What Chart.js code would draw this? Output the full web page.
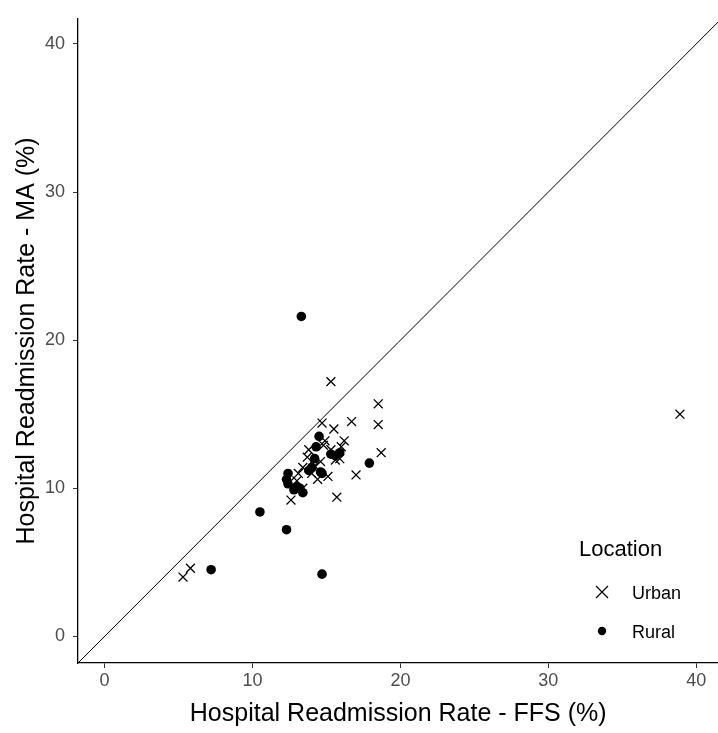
<!DOCTYPE html>
<html>
<head>
<meta charset="utf-8">
<script src="https://cdn.jsdelivr.net/npm/chart.js"></script>
<style>
  html, body { margin: 0; padding: 0; background: #fff; overflow: hidden; }
  #wrap { width: 718px; height: 733px; overflow: hidden; }
</style>
</head>
<body>
<div id="wrap"><canvas id="chart" width="726" height="733"></canvas></div>
<script>
// dados (FFS x MA, %)
const urbanFFS = [5.3, 5.8, 12.6, 15.7, 17.0, 18.7, 16.7, 18.5, 18.5, 15.3, 14.7, 38.9, 15.5, 16.2, 16.0,
  13.7, 14.6, 15.1, 13.0, 13.4, 14.4, 14.0, 15.3, 13.4, 12.5, 15.6, 14.9, 13.8, 15.9, 14.2, 14.8, 13.1];
const urbanMA  = [4.0, 4.6, 9.2, 9.4, 10.9, 12.4, 14.5, 14.3, 15.7, 17.2, 14.4, 15.0, 14.0, 13.2, 12.8,
  12.1, 11.8, 10.8, 10.5, 10.0, 10.6, 11.0, 12.6, 11.4, 10.4, 11.9, 13.2, 12.6, 12.0, 11.5, 12.9, 11.0];

const ruralFFS = [13.3, 17.9, 10.5, 12.3, 7.2, 14.7, 14.5, 14.3, 15.9, 15.6, 14.0, 14.7, 12.4, 12.4,
  12.8, 13.4, 13.2, 13.8, 14.6, 12.3, 13.0, 14.2, 15.3];
const ruralMA  = [21.6, 11.7, 8.4, 7.2, 4.5, 4.2, 13.5, 12.8, 12.4, 12.2, 11.4, 11.0, 11.0, 10.3,
  9.9, 9.7, 10.0, 11.2, 11.1, 10.6, 10.1, 12.0, 12.3];

const xTicks = [0, 10, 20, 30, 40];
const yTicks = [0, 10, 20, 30, 40];
const xRange = [-1.8, 41.5];
const yRange = [-1.8, 41.7];

const toPts = (xs, ys) => xs.map((x, i) => ({ x, y: ys[i] }));

const FONT = 'Arial, "Liberation Sans", sans-serif';
const TICK_GRAY = '#4d4d4d';

// legenda desenhada dentro da área do gráfico (como no original)
const insideLegend = {
  id: 'insideLegend',
  afterDraw(chart) {
    const c = chart.ctx;
    c.save();
    c.fillStyle = '#000';
    c.textBaseline = 'middle';
    c.font = '22px ' + FONT;
    c.fillText('Location', 579, 550);

    // Urban: x
    c.strokeStyle = '#000';
    c.lineWidth = 1.2;
    c.beginPath();
    c.moveTo(596, 586); c.lineTo(608, 598);
    c.moveTo(608, 586); c.lineTo(596, 598);
    c.stroke();
    // Rural: ponto
    c.beginPath();
    c.arc(602, 631, 4.2, 0, Math.PI * 2);
    c.fill();

    c.font = '18px ' + FONT;
    c.fillText('Urban', 632, 594);
    c.fillText('Rural', 632, 633);
    c.restore();
  }
};

new Chart(document.getElementById('chart'), {
  type: 'scatter',
  data: {
    datasets: [
      {
        label: 'y = x',
        type: 'line',
        data: [{ x: xRange[0], y: xRange[0] }, { x: xRange[1], y: xRange[1] }],
        borderColor: '#000',
        borderWidth: 1,
        pointRadius: 0,
        order: 3
      },
      {
        label: 'Urban',
        data: toPts(urbanFFS, urbanMA),
        pointStyle: 'crossRot',
        pointRadius: 6.3,
        borderColor: '#000',
        borderWidth: 1.3,
        order: 2
      },
      {
        label: 'Rural',
        data: toPts(ruralFFS, ruralMA),
        pointStyle: 'circle',
        pointRadius: 4.8,
        backgroundColor: '#000',
        borderColor: '#000',
        borderWidth: 0,
        order: 1
      }
    ]
  },
  options: {
    responsive: false,
    animation: false,
    layout: { padding: { top: 9, right: 0, left: 0, bottom: 0 } },
    plugins: {
      legend: { display: false },
      tooltip: { enabled: false }
    },
    scales: {
      x: {
        type: 'linear',
        min: xRange[0], max: xRange[1],
        afterBuildTicks: s => { s.ticks = xTicks.map(v => ({ value: v })); },
        afterFit: s => { s.height = 70; },
        border: { display: true, color: '#000', width: 1.3 },
        grid: { drawOnChartArea: false, drawTicks: true, tickLength: 5, color: '#333' },
        ticks: { color: TICK_GRAY, font: { family: FONT, size: 18 }, padding: 2 },
        title: { display: true, text: 'Hospital Readmission Rate - FFS (%)', color: '#000',
          font: { family: FONT, size: 25 }, padding: { top: 0 } }
      },
      y: {
        type: 'linear',
        min: yRange[0], max: yRange[1],
        afterBuildTicks: s => { s.ticks = yTicks.map(v => ({ value: v })); },
        afterFit: s => { s.width = 78; },
        border: { display: true, color: '#000', width: 1.3 },
        grid: { drawOnChartArea: false, drawTicks: true, tickLength: 5, color: '#333' },
        ticks: { color: TICK_GRAY, font: { family: FONT, size: 18 }, padding: 8 },
        title: { display: true, text: 'Hospital Readmission Rate - MA (%)', color: '#000',
          font: { family: FONT, size: 25 }, padding: { top: 12, bottom: 0 } }
      }
    }
  },
  plugins: [insideLegend]
});
</script>
</body>
</html>
